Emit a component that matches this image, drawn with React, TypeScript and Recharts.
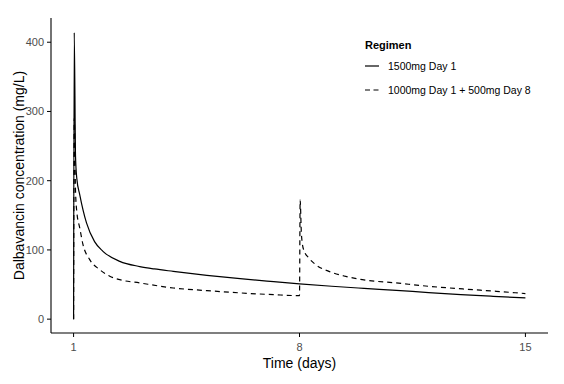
import { LineChart, Line, XAxis, YAxis, Legend, Label } from "recharts";

const FONT = '"Liberation Sans", Arial, sans-serif';

// 1500mg Day 1 (solid)
const singleDays = [1, 1.02, 1.06, 1.1, 1.19, 1.4, 1.65, 1.91, 2.43, 3.05, 3.5, 4.09, 5.13, 6.16, 7.2, 8, 9, 10, 11, 12, 13, 14, 15];
const singleConc = [0, 414, 235, 203, 180, 139, 112, 98, 83.5, 76, 72.5, 69, 63.3, 58.5, 54.2, 51, 47.5, 44.5, 41.6, 38.4, 35.5, 33, 30.6];

// 1000mg Day 1 + 500mg Day 8 (dashed)
const splitDays = [1, 1.02, 1.06, 1.1, 1.19, 1.29, 1.5, 1.81, 2.12, 2.43, 3.05, 4.09, 5.13, 6.16, 7.2, 7.98, 8.0, 8.02, 8.06, 8.13, 8.29, 8.5, 8.91, 9.43, 9.95, 10.99, 12.02, 13.06, 14.1, 15];
const splitConc = [0, 290, 185, 155, 132, 108, 86, 71.5, 62, 57, 52.3, 45, 41.2, 37.9, 35.4, 34, 34, 172, 122, 100, 88.4, 78.8, 69, 61.8, 57, 52.3, 47.4, 43.6, 40.2, 37];

const dayTicks = [1, 8, 15];
const concTicks = [0, 100, 200, 300, 400];

const SERIES = [
  { name: "1500mg Day 1", days: singleDays, conc: singleConc, dash: undefined as string | undefined },
  { name: "1000mg Day 1 + 500mg Day 8", days: splitDays, conc: splitConc, dash: "5 4" },
];

function RegimenLegend() {
  return (
    <div style={{ fontFamily: FONT, color: "#000" }}>
      <div style={{ fontWeight: "bold", fontSize: 11, height: 18, lineHeight: "18px" }}>Regimen</div>
      {SERIES.map((s) => (
        <div key={s.name} style={{ display: "flex", alignItems: "center", height: 24, fontSize: 10.5 }}>
          <svg width={23} height={10} style={{ flex: "none" }}>
            <line x1={0} x2={14} y1={5} y2={5} stroke="#000" strokeWidth={1.2} strokeDasharray={s.dash ? "5 3.5" : undefined} />
          </svg>
          <span style={{ whiteSpace: "nowrap" }}>{s.name}</span>
        </div>
      ))}
    </div>
  );
}

export default function App() {
  return (
    <div style={{ position: "absolute", left: 0, top: 0, width: 564, height: 384, background: "#fff" }}>
      <LineChart width={564} height={384} margin={{ top: 18, right: 16, bottom: 0, left: 0 }}>
        <XAxis
          type="number"
          dataKey="day"
          domain={[0.3, 15.7]}
          ticks={dayTicks}
          allowDataOverflow
          height={51}
          tickSize={4}
          tickMargin={6}
          tick={{ fontSize: 11, fill: "#4d4d4d", fontFamily: FONT }}
          tickLine={{ stroke: "#000" }}
          axisLine={{ stroke: "#000", strokeWidth: 1.1 }}
        >
          <Label
            content={({ viewBox }: any) => (
              <text
                x={viewBox.x + viewBox.width / 2}
                y={viewBox.y + 30}
                textAnchor="middle"
                dominantBaseline="central"
                fontSize={14}
                fontFamily={FONT}
                fill="#000"
              >
                Time (days)
              </text>
            )}
          />
        </XAxis>
        <YAxis
          type="number"
          domain={[-20, 435]}
          ticks={concTicks}
          allowDataOverflow
          width={51}
          tickSize={4}
          tickMargin={3}
          tick={{ fontSize: 11, fill: "#4d4d4d", fontFamily: FONT }}
          tickLine={{ stroke: "#000" }}
          axisLine={{ stroke: "#000", strokeWidth: 1.1 }}
        >
          <Label
            content={({ viewBox }: any) => {
              const cx = viewBox.x + 19;
              const cy = viewBox.y + viewBox.height / 2;
              return (
                <text
                  x={cx}
                  y={cy}
                  transform={`rotate(-90 ${cx} ${cy})`}
                  textAnchor="middle"
                  dominantBaseline="central"
                  fontSize={14}
                  fontFamily={FONT}
                  fill="#000"
                >
                  Dalbavancin concentration (mg/L)
                </text>
              );
            }}
          />
        </YAxis>
        <Legend
          layout="horizontal"
          verticalAlign="middle"
          align="center"
          content={() => <RegimenLegend />}
          wrapperStyle={{ left: 365, top: 36, width: 190, height: 70 }}
        />
        {SERIES.map((s) => (
          <Line
            key={s.name}
            name={s.name}
            data={s.days.map((d, i) => ({ day: d, conc: s.conc[i] }))}
            dataKey="conc"
            type="monotone"
            stroke="#000"
            strokeWidth={1.2}
            strokeDasharray={s.dash}
            dot={false}
            activeDot={false}
            isAnimationActive={false}
          />
        ))}
      </LineChart>
    </div>
  );
}
